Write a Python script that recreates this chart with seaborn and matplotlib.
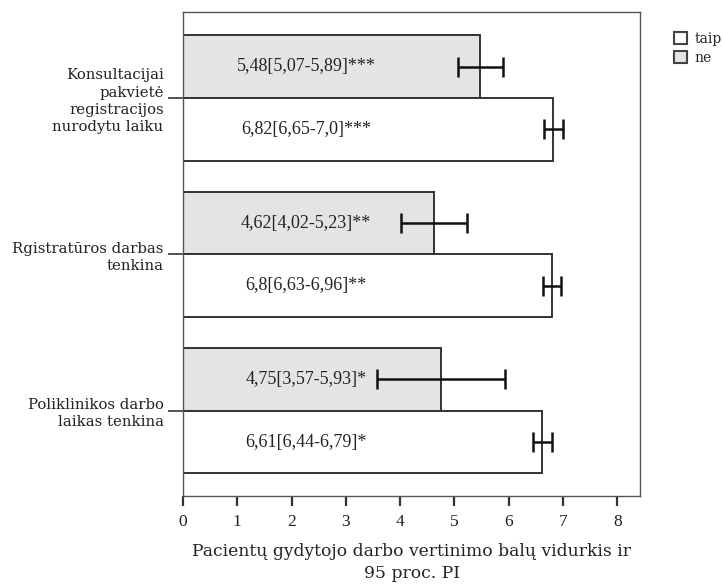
import matplotlib
matplotlib.use("Agg")
import matplotlib.pyplot as plt
import seaborn as sns
import pandas as pd
from matplotlib.patches import Patch

categories = [
    "Konsultacijai\npakvietė\nregistracijos\nnurodytu laiku",
    "Rgistratūros darbas\ntenkina",
    "Poliklinikos darbo\nlaikas tenkina",
]
groups = ["ne", "taip"]
ne_mean = [5.48, 4.62, 4.75]
ne_low = [5.07, 4.02, 3.57]
ne_high = [5.89, 5.23, 5.93]
taip_mean = [6.82, 6.8, 6.61]
taip_low = [6.65, 6.63, 6.44]
taip_high = [7.0, 6.96, 6.79]
ne_labels = ["5,48[5,07-5,89]***", "4,62[4,02-5,23]**", "4,75[3,57-5,93]*"]
taip_labels = ["6,82[6,65-7,0]***", "6,8[6,63-6,96]**", "6,61[6,44-6,79]*"]
x_ticks = [0, 1, 2, 3, 4, 5, 6, 7, 8]
x_label = "Pacientų gydytojo darbo vertinimo balų vidurkis ir\n95 proc. PI"

sns.set_style("white")
plt.rcParams["font.family"] = ["Liberation Serif", "DejaVu Serif"]
wide_serif = ["DejaVu Serif", "Liberation Serif"]

rows = []
for i, c in enumerate(categories):
    rows.append({"cat": c, "grp": "ne", "mean": ne_mean[i], "lo": ne_low[i], "hi": ne_high[i], "lab": ne_labels[i]})
    rows.append({"cat": c, "grp": "taip", "mean": taip_mean[i], "lo": taip_low[i], "hi": taip_high[i], "lab": taip_labels[i]})
df = pd.DataFrame(rows)

fig = plt.figure(figsize=(7.23, 5.88), dpi=100)
ax = fig.add_axes([183 / 723, 1 - 496 / 588, (640 - 183) / 723, (496 - 12) / 588])

palette = {"ne": "#e4e4e4", "taip": "#ffffff"}
sns.barplot(data=df, x="mean", y="cat", hue="grp", hue_order=groups, order=categories,
            orient="h", palette=palette, edgecolor="#333333", linewidth=1.4,
            errorbar=None, width=0.8, legend=False, ax=ax)

# error bars and labels, positioned from the drawn bars
for container, g in zip(ax.containers, groups):
    sub = df[df["grp"] == g].set_index("cat").loc[categories]
    for bar, (_, r) in zip(container, sub.iterrows()):
        yc = bar.get_y() + bar.get_height() / 2
        ax.errorbar(r["mean"], yc, xerr=[[r["mean"] - r["lo"]], [r["hi"] - r["mean"]]],
                    fmt="none", ecolor="#111111", elinewidth=1.8, capsize=7, capthick=1.8, zorder=5)
        ax.text(2.27, yc, r["lab"], ha="center", va="center", fontsize=13, color="#222222")

ax.set_xlim(0, 8.42)
ax.set_ylim(2.545, -0.55)
ax.set_xticks(x_ticks)
ax.set_xticklabels([str(t) for t in x_ticks], fontsize=12.5, color="#222222")
ax.set_yticks(range(len(categories)))
ax.set_yticklabels(categories, fontsize=10.7, color="#222222", linespacing=1.28, family=wide_serif)
ax.tick_params(axis="x", direction="out", length=7, width=1.6, color="#333333", pad=6, bottom=True)
ax.tick_params(axis="y", direction="out", length=11, width=1.2, color="#333333", pad=3, left=True)
ax.set_xlabel(x_label, fontsize=12.3, color="#222222", labelpad=9, linespacing=1.4, family=wide_serif)
ax.set_ylabel("")
for s in ax.spines.values():
    s.set_visible(True)
    s.set_color("#555555")
    s.set_linewidth(1.0)

handles = [Patch(facecolor=palette["taip"], edgecolor="#444444", linewidth=1.5, label="taip"),
           Patch(facecolor=palette["ne"], edgecolor="#444444", linewidth=1.5, label="ne")]
fig.legend(handles=handles, loc="upper left", bbox_to_anchor=(0.924, 0.955), frameon=False,
           prop={"family": wide_serif, "size": 10}, handlelength=1.0, handleheight=1.0,
           handletextpad=0.5, labelspacing=0.35, borderaxespad=0)

fig.savefig("out.png", dpi=100, facecolor="white")
